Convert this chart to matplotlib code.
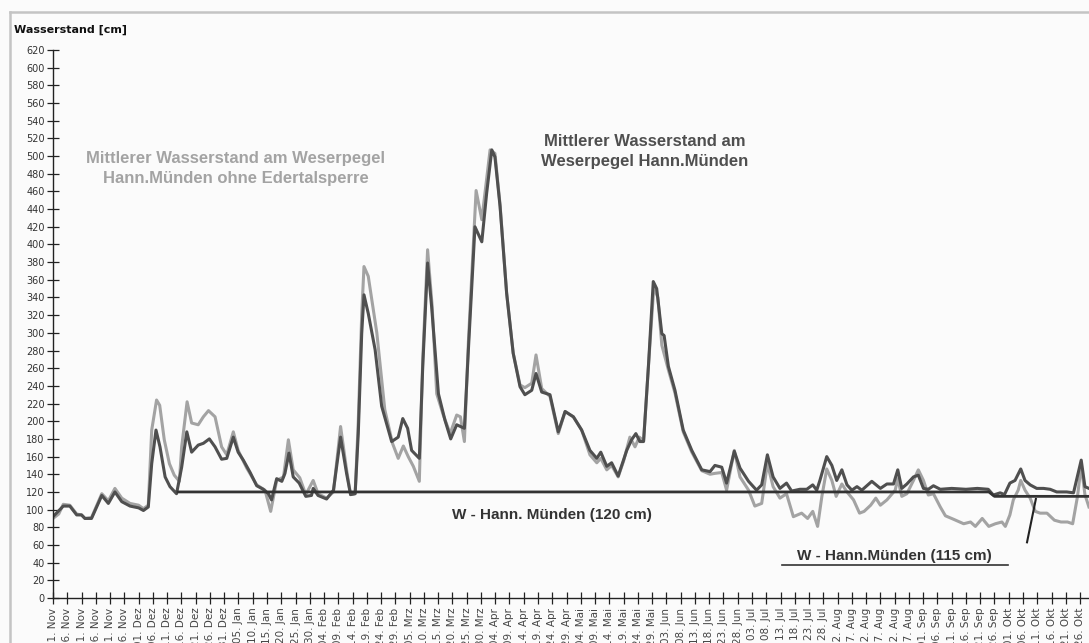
import datetime
import matplotlib
matplotlib.use('Agg')
import matplotlib.pyplot as plt
from matplotlib.lines import Line2D

# Tage ab 01. Nov 2003, Werte in cm
mit_tage = [0, 3.6, 5.9, 8.3, 10, 11.2, 13.5, 17.1, 19.4, 21.7, 24.1, 27, 30, 31.7, 33.4,
            34.6, 36.1, 37.5, 39.3, 41, 43.3, 45.1, 46.9, 48.6, 50.9, 52.7, 54.8, 56.8,
            59.1, 60.9, 63.2, 64.9, 66.7, 69.1, 71.4, 73.7, 75.5, 76.6, 78.4, 80.2, 81.3,
            82.7, 84.2, 86.3, 88.6, 90.6, 91.2, 92.9, 95.9, 98.3, 100.8, 102.9, 104.3,
            105.9, 107, 108.2, 109, 110.5, 112.9, 115.2, 118.7, 121, 122.6, 124.3, 125.7,
            128.4, 129.6, 131.3, 132.7, 135.1, 137.4, 139.4, 141.5, 144.2, 145.6, 147.9,
            150.3, 152, 153.8, 154.9, 156.7, 159, 161.3, 163.7, 165.4, 167.8, 169.3, 171.3,
            174.2, 177.1, 179.5, 182.4, 185.3, 188.2, 190.6, 192, 194.1, 195.8, 198.1,
            201.1, 202.8, 204.3, 205.7, 207, 208.7, 210.4, 211.6, 213.4, 214.2, 215.7, 218,
            220.9, 223.9, 227.4, 230.3, 232, 234.4, 236.1, 238.8, 240.8, 243.8, 246.6,
            248.4, 250.4, 252.4, 254.8, 257.1, 258.9, 261.8, 264.2, 266.3, 267.7, 268.8,
            271.2, 273, 274.7, 276.5, 278.3, 280, 281.8, 283.5, 287, 290, 292.3, 294.6,
            296.1, 297.5, 299.3, 301.6, 303.3, 305.1, 306.8, 308.6, 311, 315, 320, 324,
            327.8, 329.6, 332, 333.5, 335.4, 337.2, 339.2, 340.7, 342.5, 344.8, 347.2,
            349.5, 351.8, 355.3, 357.7, 360.4, 361.7, 363.1]
mit_werte = [92, 104, 104, 94, 94, 90, 90, 116, 107, 120, 109, 104, 102, 99, 103,
             152, 190, 171, 137, 126, 118, 148, 188, 165, 173, 175, 180, 171,
             157, 158, 182, 165, 156, 142, 127, 123, 118, 111, 135, 132, 141,
             164, 137, 130, 115, 116, 124, 116, 112, 122, 182, 141, 117,
             118, 186, 299, 343, 322, 281, 217, 177, 182, 203, 192, 167,
             158, 262, 379, 330, 231, 201, 180, 196, 192, 281, 420,
             403, 458, 507, 499, 443, 345, 277, 239, 230, 235, 254, 233,
             230, 188, 211, 205, 190, 167, 158, 165, 149, 153, 138,
             167, 179, 186, 177, 177, 262, 358, 350, 299, 297, 262, 235,
             190, 167, 145, 143, 150, 148, 130, 166, 147, 132, 122,
             128, 162, 137, 124, 130, 121, 123, 123, 128, 122, 133,
             160, 150, 133, 145, 128, 122, 126, 122, 132, 124, 129, 129,
             145, 124, 129, 137, 139, 124, 123, 127, 123, 124, 123, 124,
             123, 116.5, 119, 117, 130, 133, 146, 133, 128, 124, 124,
             123, 120, 120, 119, 156, 126, 124]

ohne_tage = [0, 2, 3.6, 5.9, 8.3, 10, 11.2, 13.5, 17.1, 19.4, 21.7, 24.1, 27, 30, 31.7,
             33.4, 34.6, 36.3, 37.4, 39, 40.8, 42.5, 44.3, 45.1, 47, 48.6, 50.9, 52.7,
             54.5, 56.8, 59.1, 60.9, 63.2, 64.9, 67.9, 71.4, 74.3, 76.3, 78.4, 80.8, 82.5,
             84.2, 86.5, 88.6, 91.2, 92.9, 95.9, 98.3, 100.8, 102.9, 104.3, 105.9, 107,
             108.2, 109, 110.5, 113.5, 116.3, 119, 121, 122.8, 124.5, 126.3, 128.4, 129.6,
             131.3, 132.9, 134.5, 136.8, 139.2, 141.5, 142.8, 144.2, 145.6, 148.3, 150.3,
             153.2, 154.9, 156.7, 159, 161.3, 163.7, 165.4, 167.8, 169.3, 171.3, 174.2,
             177.1, 179.5, 182.4, 185.3, 188.2, 190.6, 192, 194.1, 195.8, 198.1, 200,
             202.2, 204, 205.5, 207, 208.7, 210.6, 212, 213.4, 215.7, 218, 220.9, 223.9,
             227.4, 230.3, 232, 234.4, 236.1, 238.8, 240.8, 243.8, 246, 248.4, 250.4,
             252.4, 254.8, 257.1, 259.5, 262.4, 264.5, 266.3, 268, 269.5, 271.2, 273,
             274.5, 276.5, 278.3, 280.6, 282.7, 284.3, 286.6, 288.4, 290, 292.3, 295.2,
             296.1, 297.5, 299.3, 301.6, 303.3, 305.1, 306.8, 308.6, 311, 312.8, 315.7,
             319.2, 321.6, 323.3, 325.7, 328, 330.3, 332.6, 333.8, 335.4, 336.6, 338.3,
             339.2, 340.7, 342.5, 344.3, 346, 348.4, 351, 353.3, 355.6, 357.4, 359.1,
             360.4, 361.7, 363.1]
ohne_werte = [90, 95, 106, 105, 95, 94, 90, 91, 118, 110, 124, 113, 107, 105, 101,
              105, 190, 224, 218, 179, 152, 139, 132, 171, 222, 198, 196, 205,
              212, 205, 171, 162, 188, 167, 147, 128, 122, 98, 133, 137, 179,
              145, 136, 117, 133, 118, 113, 120, 194, 145, 117, 118, 200,
              320, 375, 364, 300, 213, 175, 158, 172, 160, 149, 132, 270,
              394, 330, 231, 207, 186, 207, 205, 177, 290, 461, 428,
              507, 503, 445, 345, 277, 241, 238, 243, 275, 237, 228,
              186, 211, 205, 190, 162, 153, 158, 145, 150, 137, 155,
              182, 171, 182, 178, 262, 352, 340, 286, 258, 232, 188, 165,
              144, 140, 141, 142, 122, 167, 137, 122, 104, 107, 152,
              126, 113, 118, 92, 96, 90, 98, 81, 115, 146, 133,
              115, 129, 120, 111, 96, 98, 105, 113, 105, 111, 122,
              135, 115, 118, 133, 145, 133, 116.5, 118, 103, 93, 89,
              84, 86, 81, 90, 81, 84, 86, 81, 94, 111, 122,
              133, 122, 113, 98, 96, 96, 88, 86, 86, 84, 115,
              150, 117, 103]

# W-Linie (120 cm, ab Ende Sep 115 cm)
w_tage = [43.8, 328, 330, 366]
w_werte = [120, 120, 115, 115]
zeiger_tage = [344.5, 341.4]
zeiger_werte = [112, 63]

monate = ['Jan', 'Feb', 'Mrz', 'Apr', 'Mai', 'Jun', 'Jul', 'Aug', 'Sep', 'Okt', 'Nov', 'Dez']
start = datetime.date(2003, 11, 1)
tick_tage = list(range(0, 361, 5))
tick_labels = []
for t in tick_tage:
    d = start + datetime.timedelta(days=t)
    tick_labels.append(f'{d.day:02d}. {monate[d.month - 1]}')

W, H = 1089, 643
fig = plt.figure(figsize=(W / 100, H / 100), dpi=100)
fig.patch.set_facecolor('#fbfbfb')
ax = fig.add_axes([53 / W, 45 / H, 1 - 53 / W, (598 - 50) / H])
ax.set_facecolor('#fbfbfb')

ax.plot(ohne_tage, ohne_werte, color='#a3a3a3', lw=2.2, solid_joinstyle='round')
ax.plot(mit_tage, mit_werte, color='#4f4f4f', lw=2.2, solid_joinstyle='round')
ax.plot(w_tage, w_werte, color='#333333', lw=2.0)
ax.plot(zeiger_tage, zeiger_werte, color='#222222', lw=1.5)

ax.set_xlim(0, (W - 53) / 2.853)
ax.set_ylim(0, 620)
ax.set_yticks(range(0, 621, 20))
ax.set_xticks(tick_tage)
ax.set_xticklabels(tick_labels, rotation=90, fontsize=7.5, family='DejaVu Sans', color='#444444')
for lab in ax.get_yticklabels():
    lab.set_fontsize(7)
    lab.set_color('#333333')
ax.tick_params(axis='both', direction='inout', length=8, width=0.9, color='#222222', pad=2)
ax.tick_params(axis='x', pad=3)
for s in ['top', 'right']:
    ax.spines[s].set_visible(False)
for s in ['left', 'bottom']:
    ax.spines[s].set_color('#222222')
    ax.spines[s].set_linewidth(1.0)

ax.text(175, 94, 'W - Hann. Münden (120 cm)', ha='center', va='center',
        fontsize=11, fontweight='bold', family='Liberation Sans', color='#333333')
ax.text(295, 47, 'W - Hann.Münden (115 cm)', ha='center', va='center',
        fontsize=11, fontweight='bold', family='Liberation Sans', color='#333333')
ax.plot([255.5, 334.7], [37, 37], color='#333333', lw=1.2)

ax.text(64, 486, 'Mittlerer Wasserstand am Weserpegel\nHann.Münden ohne Edertalsperre',
        ha='center', va='center', fontsize=12, fontweight='bold', family='Liberation Sans',
        color='#a3a3a3', linespacing=1.45)
ax.text(207.5, 505, 'Mittlerer Wasserstand am\nWeserpegel Hann.Münden',
        ha='center', va='center', fontsize=12, fontweight='bold', family='Liberation Sans',
        color='#4f4f4f', linespacing=1.45)

fig.text(14 / W, 1 - 30 / H, 'Wasserstand [cm]', ha='left', va='center',
         fontsize=8, fontweight='bold', family='DejaVu Sans', color='#111111')

# grauer Rahmen oben/links
fig.add_artist(Line2D([10 / W, 10 / W], [0, 1 - 12 / H], color='#c4c4c4', lw=1.8))
fig.add_artist(Line2D([10 / W, 1], [1 - 12 / H, 1 - 12 / H], color='#c4c4c4', lw=1.8))

fig.savefig('out.png', dpi=100, facecolor=fig.get_facecolor())
